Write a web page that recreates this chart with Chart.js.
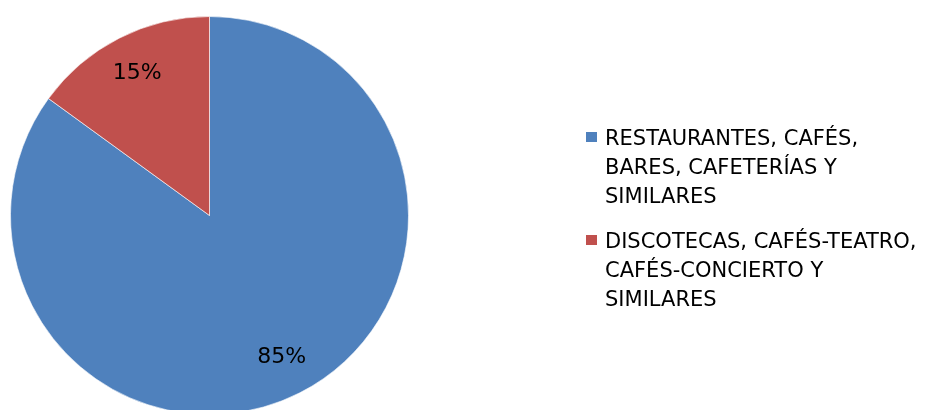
<!DOCTYPE html>
<html>
<head>
<meta charset="utf-8">
<script src="https://cdn.jsdelivr.net/npm/chart.js@4.4.1/dist/chart.umd.min.js"></script>
<style>
  html, body { margin: 0; padding: 0; background: #fff; overflow: hidden; }
  #chart { display: block; }
</style>
</head>
<body>
<canvas id="chart" width="941" height="431"></canvas>
<script>
// Legend text, split into the lines as they wrap in the original
const categories = [
    ["RESTAURANTES, CAFÉS,", "BARES, CAFETERÍAS Y", "SIMILARES"],
    ["DISCOTECAS, CAFÉS-TEATRO,", "CAFÉS-CONCIERTO Y", "SIMILARES"],
];
const shares = [85, 15];
const sliceColors = ["#4F81BD", "#C0504D"];

const FONT = "'DejaVu Sans', sans-serif";

// Percent labels inside each slice
const sliceLabels = {
    id: "sliceLabels",
    afterDatasetsDraw(chart) {
        const ctx = chart.ctx;
        const meta = chart.getDatasetMeta(0);
        ctx.save();
        ctx.font = "22px " + FONT;
        ctx.fillStyle = "#000";
        ctx.textAlign = "center";
        ctx.textBaseline = "middle";
        meta.data.forEach((arc, i) => {
            const mid = (arc.startAngle + arc.endAngle) / 2;
            const r = arc.outerRadius * 0.8;
            ctx.fillText(shares[i] + "%", arc.x + Math.cos(mid) * r, arc.y + Math.sin(mid) * r);
        });
        ctx.restore();
    },
};

// Legend on the right with wrapped lines
const sideLegend = {
    id: "sideLegend",
    afterDraw(chart) {
        const ctx = chart.ctx;
        const x = 586, lineH = 29, itemGap = 45;
        let base = 145;
        ctx.save();
        ctx.font = "21px " + FONT;
        ctx.textBaseline = "alphabetic";
        categories.forEach((lines, i) => {
            ctx.fillStyle = sliceColors[i];
            ctx.fillRect(x, base - 13, 11, 10);
            ctx.fillStyle = "#000";
            lines.forEach((t, j) => ctx.fillText(t, x + 19, base + j * lineH));
            base += (lines.length - 1) * lineH + itemGap;
        });
        ctx.restore();
    },
};

new Chart(document.getElementById("chart"), {
    type: "pie",
    data: {
        labels: categories.map(l => l.join(" ")),
        datasets: [{
            data: shares,
            backgroundColor: sliceColors,
            borderColor: "rgba(255,255,255,0.6)",
            borderWidth: 1,
        }],
    },
    options: {
        responsive: false,
        animation: false,
        layout: { padding: { left: 10, top: 16, right: 532, bottom: 16 } },
        plugins: {
            legend: { display: false },
            tooltip: { enabled: false },
        },
    },
    plugins: [sliceLabels, sideLegend],
});
</script>
</body>
</html>
